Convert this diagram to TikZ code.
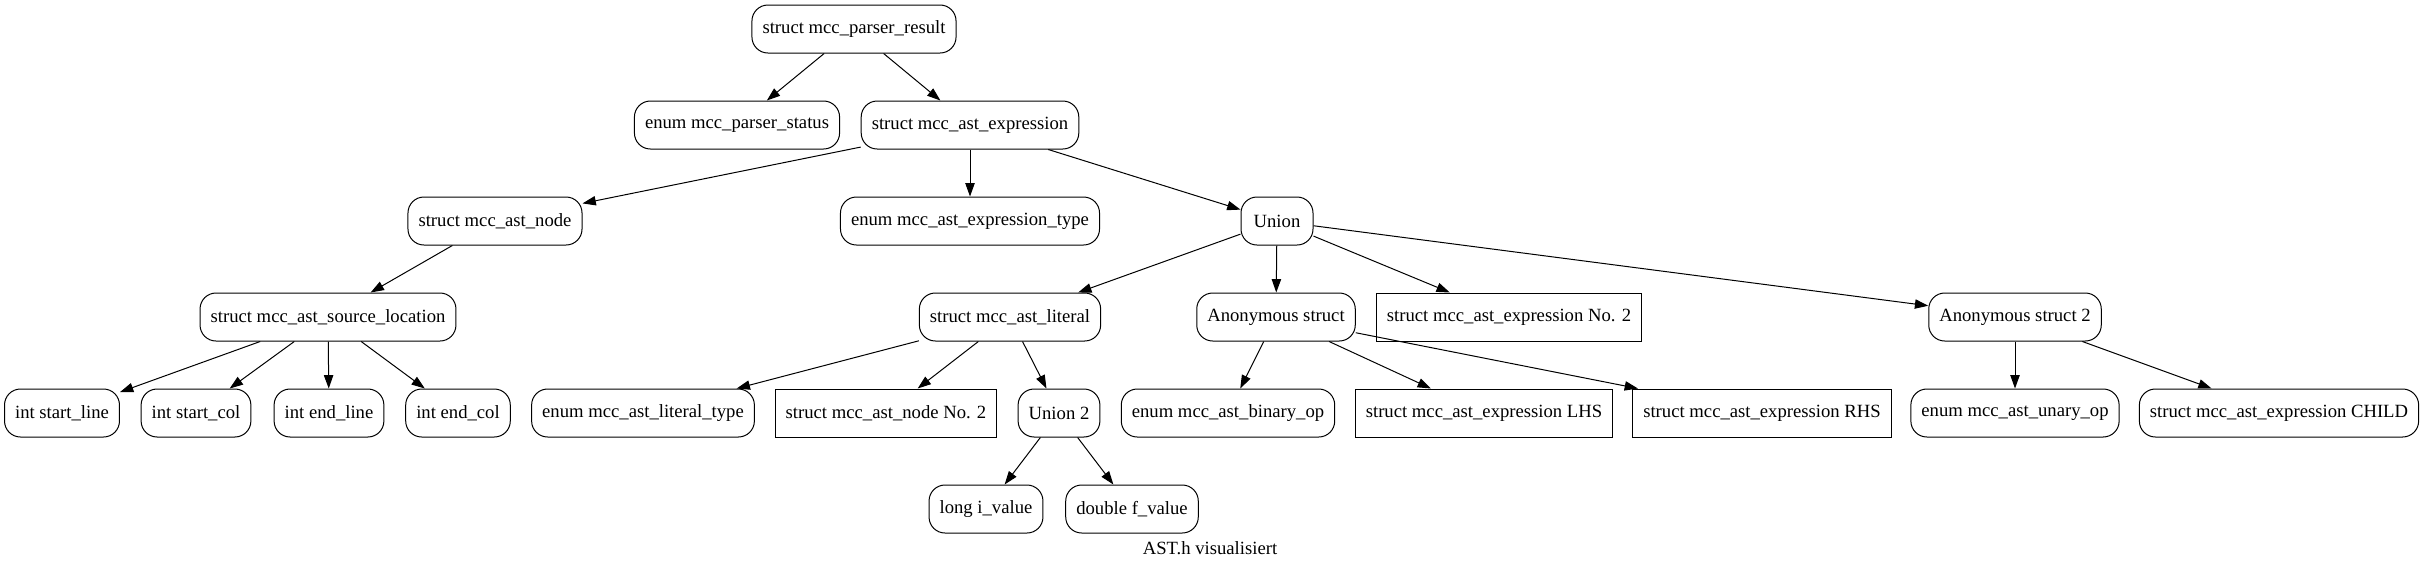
\documentclass[tikz,border=0pt]{standalone}
\usepackage{fontspec}
\setmainfont{Liberation Serif}
\usepackage{tikz}
\usetikzlibrary{arrows.meta}

\begin{document}
\begin{tikzpicture}[x=0.75pt, y=-0.75pt, >={Triangle[length=10pt, width=7pt]},
    feld/.style={draw, line width=0.75pt, rounded corners=12pt, minimum height=36pt,
        minimum width=54pt, inner xsep=7.92pt, inner ysep=0pt,
        font=\fontsize{14pt}{16pt}\selectfont},
    kasten/.style={feld, sharp corners},
    kante/.style={->, line width=0.75pt}]
    % --- LAYER 0: RAHMEN ---
    \useasboundingbox (0,0) rectangle (2421,569);

    % --- LAYER 1: EBENE 1 UND 2 ---
    \node[feld] (result) at (854,29)  {struct mcc\_parser\_result};
    \node[feld] (status) at (737,125) {enum mcc\_parser\_status};
    \node[feld] (expr)   at (970,125) {struct mcc\_ast\_expression};

    % --- LAYER 2: EBENE 3 ---
    \node[feld] (astnode)  at (495,221)  {struct mcc\_ast\_node};
    \node[feld] (exprtype) at (970,221)  {enum mcc\_ast\_expression\_type};
    \node[feld] (union)    at (1277,221) {Union};

    % --- LAYER 3: EBENE 4 ---
    \node[feld]   (srcloc)  at (328,317)  {struct mcc\_ast\_source\_location};
    \node[feld]   (literal) at (1010,317) {struct mcc\_ast\_literal};
    \node[feld]   (anon)    at (1276,317) {Anonymous struct};
    \node[kasten] (expr2)   at (1509,317) {struct mcc\_ast\_expression No. 2};
    \node[feld]   (anon2)   at (2015,317) {Anonymous struct 2};

    % --- LAYER 4: EBENE 5 ---
    \node[feld]   (sline)   at (62,413)   {int start\_line};
    \node[feld]   (scol)    at (196,413)  {int start\_col};
    \node[feld]   (eline)   at (329,413)  {int end\_line};
    \node[feld]   (ecol)    at (458,413)  {int end\_col};
    \node[feld]   (littype) at (643,413)  {enum mcc\_ast\_literal\_type};
    \node[kasten] (node2)   at (886,413)  {struct mcc\_ast\_node No. 2};
    \node[feld]   (union2)  at (1059,413) {Union 2};
    \node[feld]   (binop)   at (1228,413) {enum mcc\_ast\_binary\_op};
    \node[kasten] (lhs)     at (1484,413) {struct mcc\_ast\_expression LHS};
    \node[kasten] (rhs)     at (1762,413) {struct mcc\_ast\_expression RHS};
    \node[feld]   (unop)    at (2015,413) {enum mcc\_ast\_unary\_op};
    \node[feld]   (child)   at (2279,413) {struct mcc\_ast\_expression CHILD};

    % --- LAYER 5: EBENE 6 ---
    \node[feld] (ival) at (986,509)  {long i\_value};
    \node[feld] (fval) at (1132,509) {double f\_value};

    % --- LAYER 6: KANTEN ---
    % Loop fuer alle Pfeile vom Elternknoten zum Kind
    \foreach \von/\nach in {result/status, result/expr,
        expr/astnode, expr/exprtype, expr/union,
        astnode/srcloc,
        srcloc/sline, srcloc/scol, srcloc/eline, srcloc/ecol,
        union/literal, union/anon, union/expr2, union/anon2,
        literal/littype, literal/node2, literal/union2,
        union2/ival, union2/fval,
        anon/binop, anon/lhs, anon/rhs,
        anon2/unop, anon2/child} {
        \draw[kante] (\von) -- (\nach);
    }

    % --- LAYER 7: TITEL ---
    \node[font=\fontsize{14pt}{16pt}\selectfont] (titel) at (1210,548) {AST.h visualisiert};

\end{tikzpicture}
\end{document}
